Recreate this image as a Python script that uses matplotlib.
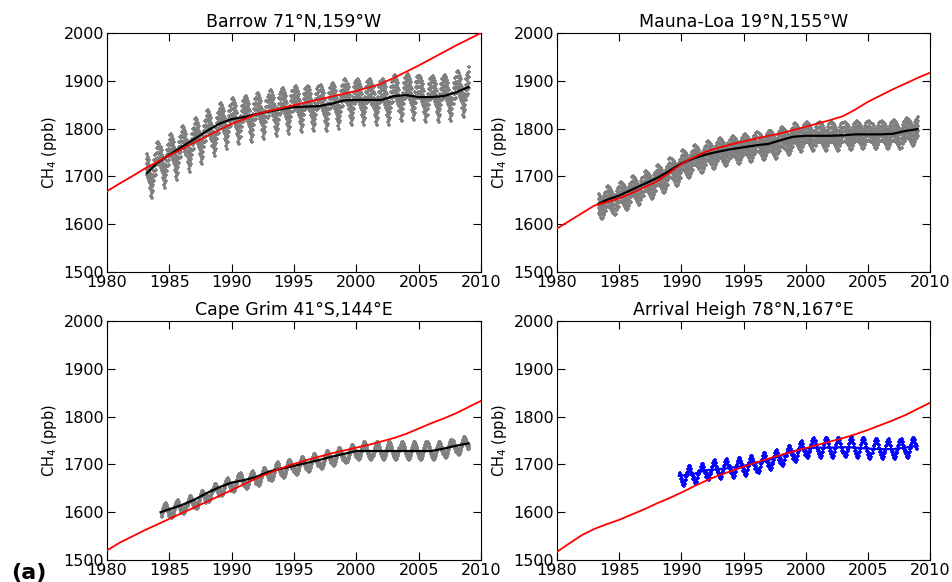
import matplotlib
matplotlib.use("Agg")
import matplotlib.pyplot as plt

# panel titles
titles = ["Barrow 71°N,159°W", "Mauna-Loa 19°N,155°W",
          "Cape Grim 41°S,144°E", "Arrival Heigh 78°N,167°E"]

# red model curves, one value per year 1980..2010 (ppb)
model_years = list(range(1980, 2011))
brw_model = [1669, 1685, 1700, 1716, 1730, 1744, 1757, 1771, 1784, 1797, 1810,
             1820, 1830, 1837, 1843, 1849, 1855, 1861, 1867, 1873, 1879,
             1886, 1894, 1906, 1919, 1932, 1946, 1960, 1974, 1987, 2000]
mlo_model = [1591, 1607, 1623, 1639, 1646, 1654, 1665, 1677, 1689, 1707, 1726,
             1740, 1752, 1760, 1767, 1773, 1779, 1785, 1790, 1797, 1804,
             1811, 1818, 1826, 1840, 1856, 1869, 1882, 1894, 1906, 1917]
cgo_model = [1520, 1536, 1549, 1562, 1574, 1586, 1598, 1610, 1622, 1634, 1646,
             1659, 1671, 1682, 1692, 1701, 1709, 1716, 1723, 1729, 1735,
             1741, 1748, 1755, 1764, 1775, 1786, 1796, 1807, 1820, 1833]
arh_model = [1517, 1535, 1552, 1565, 1575, 1584, 1595, 1606, 1618, 1629, 1641,
             1654, 1666, 1677, 1686, 1695, 1704, 1712, 1720, 1727, 1734,
             1741, 1748, 1755, 1763, 1772, 1782, 1792, 1803, 1816, 1829]

# observed trend (black / blue line)
brw_years = [1983.2] + list(range(1984, 2009)) + [2009.0]
brw_trend = [1707, 1728, 1745, 1762, 1778, 1795, 1810, 1820, 1824, 1830,
             1836, 1841, 1845, 1846, 1847, 1852, 1859, 1860, 1860, 1860,
             1868, 1870, 1866, 1866, 1868, 1876, 1887]
mlo_years = [1983.3] + list(range(1984, 2009)) + [2009.0]
mlo_trend = [1642, 1651, 1660, 1672, 1684, 1696, 1711, 1727, 1738, 1746,
             1752, 1757, 1761, 1765, 1768, 1776, 1783, 1785, 1785, 1785,
             1786, 1788, 1788, 1788, 1789, 1795, 1799]
cgo_years = [1984.3] + list(range(1985, 2009)) + [2009.0]
cgo_trend = [1600, 1606, 1615, 1626, 1640, 1652, 1662, 1667, 1674, 1685,
             1691, 1697, 1703, 1709, 1716, 1722, 1728, 1728, 1728, 1728,
             1728, 1728, 1728, 1733, 1739, 1744]
arh_years = [1989.8] + list(range(1991, 2009)) + [2008.9]
arh_trend = [1676, 1680, 1688, 1690, 1693, 1697, 1703, 1709, 1718, 1727,
             1734, 1735, 1735, 1736, 1735, 1733, 1732, 1732, 1735, 1739]

# seasonal anomaly of the samples, Jan..Dec (ppb)
brw_season = [20, 22, 18, 12, 5, -10, -25, -30, -15, 5, 15, 18]
mlo_season = [6, 8, 6, 4, 1, -3, -8, -11, -9, -2, 4, 6]
cgo_season = [-8, -13, -15, -13, -7, 2, 9, 14, 15, 11, 4, -3]
arh_season = [-10, -16, -18, -14, -6, 3, 12, 17, 18, 12, 4, -4]

# scatter of the individual samples about the monthly value (ppb)
brw_spread = [-22, -11, 0, 11, 22]
mlo_spread = [-20, -10, 0, 10, 20]
cgo_spread = [-4, 0, 4]
arh_spread = [-3, 3]

panels = [
    (brw_model, brw_years, brw_trend, brw_season, brw_spread, 'gray', 'k'),
    (mlo_model, mlo_years, mlo_trend, mlo_season, mlo_spread, 'gray', 'k'),
    (cgo_model, cgo_years, cgo_trend, cgo_season, cgo_spread, 'gray', 'k'),
    (arh_model, arh_years, arh_trend, arh_season, arh_spread, 'b', 'b'),
]

# axes boxes in figure fraction
boxes = [
    [0.1124, 0.5326, 0.3929, 0.4107],
    [0.5851, 0.5326, 0.3918, 0.4107],
    [0.1124, 0.0378, 0.3929, 0.4107],
    [0.5851, 0.0378, 0.3918, 0.4107],
]

fig = plt.figure(figsize=(9.52, 5.82), dpi=100)

for i in range(4):
    model, years, trend, season, spread, dot_col, line_col = panels[i]
    ax = fig.add_axes(boxes[i])

    # samples: monthly points between start and end of the record,
    # level taken from the trend segment they fall in
    xs, ys = [], []
    for yr in range(int(years[0]), int(years[-1]) + 1):
        for m in range(12):
            x = yr + (m + 0.5) / 12.0
            if x < years[0] or x > years[-1] + 0.1:
                continue
            k = 0
            while k + 1 < len(years) and years[k + 1] <= x:
                k += 1
            for off in spread:
                xs.append(x)
                ys.append(trend[k] + season[m] + off)
    ax.plot(xs, ys, linestyle='none', marker='+', markersize=3.5,
            markeredgewidth=1.2, color=dot_col, zorder=1)

    ax.plot(model_years, model, color='r', linewidth=1.3, zorder=3)
    ax.plot(years, trend, color=line_col, linewidth=1.6, zorder=2)

    ax.set_xlim(1980, 2010)
    ax.set_ylim(1500, 2000)
    ax.set_xticks(range(1980, 2011, 5))
    ax.set_yticks(range(1500, 2001, 100))
    ax.tick_params(direction='in', top=True, right=True, length=6,
                   labelsize=11.5, pad=2)
    ax.set_title(titles[i], fontsize=12.5, pad=4)
    ax.set_ylabel('CH$_4$ (ppb)', fontsize=10.5, labelpad=3)

fig.text(0.012, 0.005, '(a)', fontsize=16, fontweight='bold')

fig.savefig('out.png', dpi=100)
